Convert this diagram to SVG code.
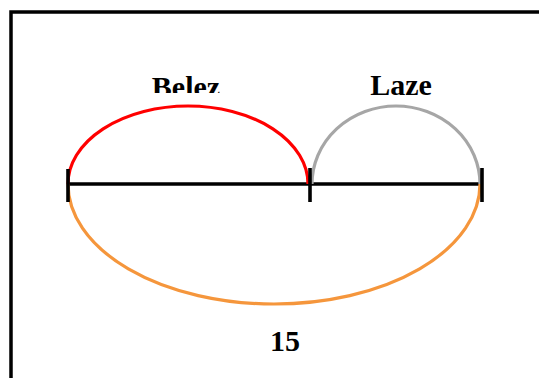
<svg xmlns="http://www.w3.org/2000/svg" width="539" height="378" viewBox="0 0 539 378">
<style>
.lbl{font-family:"Liberation Serif","Times New Roman",serif;font-weight:bold;font-size:30px;text-anchor:middle;fill:#000}
.arc{fill:none;stroke-width:3.2}
.ax{stroke:#000;stroke-width:3.6;fill:none}
</style>
<defs>
<clipPath id="clipB"><rect x="0" y="0" width="539" height="93"/></clipPath>
</defs>
<rect x="11" y="12" width="540" height="380" fill="#fff" stroke="#000" stroke-width="3.5"/>
<g id="connectors">
<line class="ax" x1="68" y1="184" x2="482" y2="184"/>
<path class="arc" stroke="#ff0000" d="M68,184 A120,78 0 0 1 308,184"/>
<path class="arc" stroke="#a6a6a6" d="M312,184 A84,78 0 0 1 480,184"/>
<path class="arc" stroke="#f5963c" d="M68,184 A206,120 0 0 0 480,184"/>
</g>
<g id="tick-left"><line class="ax" x1="68" y1="169" x2="68" y2="202" stroke-width="4"/></g>
<g id="tick-mid"><line class="ax" x1="310" y1="168" x2="310" y2="202" stroke-width="4"/></g>
<g id="tick-right"><line class="ax" x1="482" y1="168" x2="482" y2="202" stroke-width="4"/></g>
<g id="label-belez"><text class="lbl" x="186" y="97" clip-path="url(#clipB)">Belez</text></g>
<g id="label-laze"><text class="lbl" x="401" y="95">Laze</text></g>
<g id="label-15"><text class="lbl" x="285" y="351">15</text></g>
</svg>
